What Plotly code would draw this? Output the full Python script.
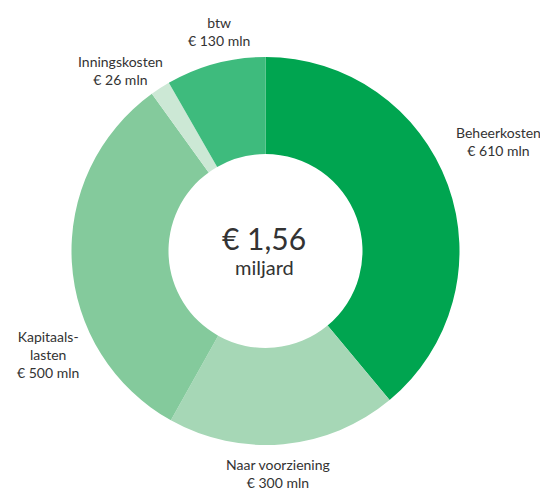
import plotly.graph_objects as go

# Kostenposten (mln euro), met de klok mee vanaf 12 uur
posten = ["Beheerkosten", "Naar voorziening", "Kapitaalslasten", "Inningskosten", "btw"]
bedragen = [610, 300, 500, 26, 130]
labels = ["Beheerkosten<br>€ 610 mln", "Naar voorziening<br>€ 300 mln",
          "Kapitaals-<br>lasten<br>€ 500 mln", "Inningskosten<br>€ 26 mln",
          "btw<br>€ 130 mln"]
kleuren = ["#00A550", "#A6D7B6", "#84CA9C", "#CCE8D5", "#3EBB7D"]

# label-middelpunten in pixels van de pagina
label_pos = [(498, 142), (278, 473), (47.5, 354), (120.5, 71), (219, 31)]

W, H = 548, 490
OFF = 8  # body-marge van de pagina
font = "Lato"


def px(x):
    return (x - OFF) / W


def py(y):
    return 1 - (y - OFF) / H


cx, cy, r = 265.5, 251, 194

fig = go.Figure(go.Pie(
    labels=posten,
    values=bedragen,
    hole=0.5,
    sort=False,
    direction="clockwise",
    rotation=0,
    marker=dict(colors=kleuren, line=dict(width=0)),
    textinfo="none",
    hoverinfo="label+value",
    domain=dict(x=[px(cx - r), px(cx + r)], y=[py(cy + r), py(cy - r)]),
))

for tekst, (lx, ly) in zip(labels, label_pos):
    fig.add_annotation(x=px(lx), y=py(ly), xref="paper", yref="paper",
                       xanchor="center", yanchor="middle",
                       text=tekst, showarrow=False,
                       font=dict(family=font, size=14, color="#333333"))

fig.add_annotation(x=px(264), y=py(238), xref="paper", yref="paper",
                   xanchor="center", yanchor="middle",
                   text="€ 1,56", showarrow=False,
                   font=dict(family=font, size=30, color="#333333"))
fig.add_annotation(x=px(264), y=py(267), xref="paper", yref="paper",
                   xanchor="center", yanchor="middle",
                   text="miljard", showarrow=False,
                   font=dict(family=font, size=20, color="#333333"))

fig.update_layout(
    width=W, height=H,
    margin=dict(l=0, r=0, t=0, b=0),
    showlegend=False,
    paper_bgcolor="white",
    plot_bgcolor="white",
)

fig.write_html("out.html")
